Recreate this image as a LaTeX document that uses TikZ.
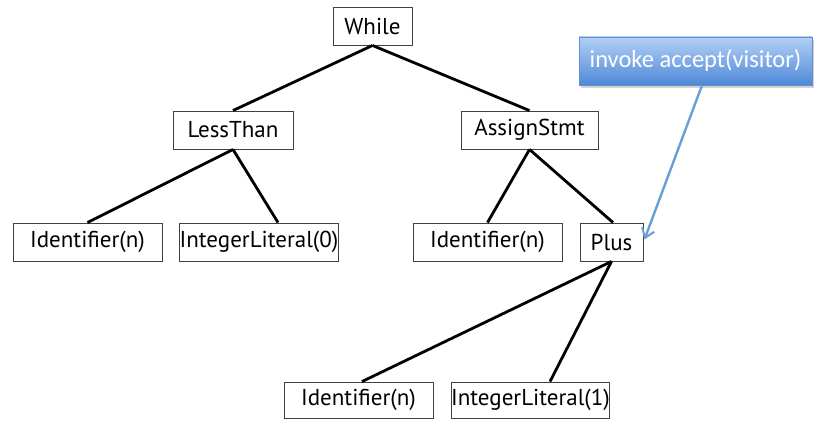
\documentclass[tikz,border=0pt]{standalone}
\usepackage{fontspec}
\setmainfont{PT Sans}
\newfontfamily\calloutfont{Carlito}
\usetikzlibrary{arrows.meta,shadows}
\definecolor{boxline}{HTML}{404040}
\definecolor{calltop}{HTML}{B3D0F5}
\definecolor{callbot}{HTML}{4F88D8}
\definecolor{callrim}{HTML}{5E8FD0}
\definecolor{pointer}{HTML}{6A9ED8}
\tikzset{
  astnode/.style={draw=boxline, line width=0.9pt, minimum height=38pt,
    inner sep=0pt, font=\fontsize{23}{26}\selectfont},
  treeedge/.style={line width=2.8pt, black},
  callout/.style={draw=callrim, line width=0.6pt, top color=calltop,
    bottom color=callbot, text=white, minimum width=233pt, minimum height=48pt,
    inner sep=0pt, font=\calloutfont\fontsize{24.5}{28}\selectfont,
    drop shadow={opacity=0.35, shadow xshift=2pt, shadow yshift=-3pt}},
  pointerarrow/.style={draw=pointer, line width=2.4pt,
    -{Straight Barb[length=9pt,width=13pt,line width=2pt]}}
}
\begin{document}
\begin{tikzpicture}[x=1pt,y=-1pt]
  \useasboundingbox (0,0) rectangle (814,422);

  % tree nodes
  \node[astnode, minimum width=79pt]  (while)  at (372.5,26)  {While};
  \node[astnode, minimum width=120pt] (less)   at (233,130)   {LessThan};
  \node[astnode, minimum width=137pt] (assign) at (529.5,130) {AssignStmt};
  \node[astnode, minimum width=149pt] (idA)    at (87.5,242)  {Identifier(n)};
  \node[astnode, minimum width=158pt] (litA)   at (259,242)   {IntegerLiteral(0)};
  \node[astnode, minimum width=149pt] (idB)    at (487.5,242) {Identifier(n)};
  \node[astnode, minimum width=63pt]  (plus)   at (611.5,242) {Plus};
  \node[astnode, minimum width=149pt, minimum height=36pt] (idC)  at (358.5,400) {Identifier(n)};
  \node[astnode, minimum width=158pt, minimum height=36pt] (litB) at (530.5,400) {IntegerLiteral(1)};

  % tree edges
  \draw[treeedge] (while.south) -- (less.north);
  \draw[treeedge] (while.south) -- (assign.north);
  \draw[treeedge] (less.south) -- (idA.north);
  \draw[treeedge] (less.south) -- ([xshift=19pt]litA.north);
  \draw[treeedge] (assign.south) -- (idB.north);
  \draw[treeedge] (assign.south) -- ([xshift=1.5pt]plus.north);
  \draw[treeedge] (plus.south) -- ([xshift=3.5pt]idC.north);
  \draw[treeedge] (plus.south) -- ([xshift=19.5pt]litB.north);

  % callout and its pointer
  \node[callout] (call) at (695.5,61) {invoke accept(visitor)};
  \draw[pointerarrow] ([xshift=6.5pt]call.south) -- ([xshift=1pt,yshift=2.5pt]plus.east);
\end{tikzpicture}
\end{document}
